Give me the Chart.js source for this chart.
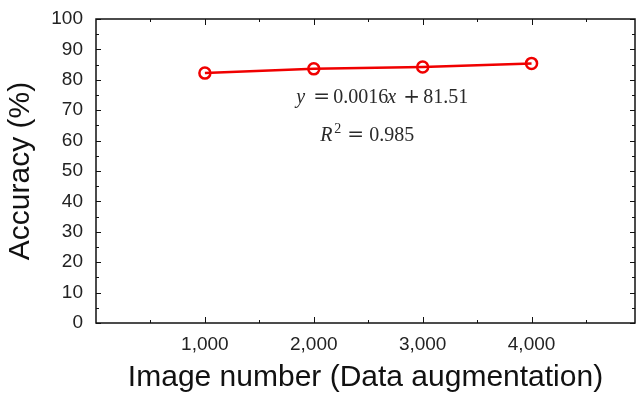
<!DOCTYPE html>
<html>
<head>
<meta charset="utf-8">
<script src="https://cdn.jsdelivr.net/npm/chart.js@4.4.0/dist/chart.umd.min.js"></script>
<style>
  html, body { margin: 0; padding: 0; background: #fff; }
</style>
</head>
<body>
<canvas id="grafico" width="638" height="393"></canvas>
<script>
// datos
const imagenes = [1000, 2000, 3000, 4000];
const precision = [82.2, 83.6, 84.2, 85.4];
const xTicks = [1000, 2000, 3000, 4000];
const xMenores = [500, 1500, 2500, 3500, 4500];
const yTicks = [0, 10, 20, 30, 40, 50, 60, 70, 80, 90, 100];
const yMenores = [5, 15, 25, 35, 45, 55, 65, 75, 85, 95];
// trozos del texto: [texto, tipo, desplazamiento en px]
const ecuacion = [["y", "it", 0], ["=", "op", 17], ["0.0016", "n", 37], ["x", "it", 91], ["+", "op", 107], ["81.51", "n", 127]];
const ajuste = [["R", "it", 0], ["2", "sup", 14], ["=", "op", 27], ["0.985", "n", 49]];

const fuentes = {
  it: "italic 20px 'Liberation Serif', serif",
  n: "20px 'Liberation Serif', serif",
  op: "20px 'DejaVu Serif', serif",
  sup: "14px 'Liberation Serif', serif"
};

function escribir(ctx, trozos, x0, y0) {
  for (const [t, tipo, dx] of trozos) {
    ctx.font = fuentes[tipo];
    ctx.fillText(t, x0 + dx, tipo === "sup" ? y0 - 8 : y0);
  }
}

const marcoPlugin = {
  id: "marco",
  beforeDatasetsDraw(chart) {
    const { ctx, chartArea: a, scales } = chart;
    ctx.save();
    ctx.strokeStyle = "#111";
    ctx.lineWidth = 1.5;
    ctx.strokeRect(a.left, a.top, a.right - a.left, a.bottom - a.top);
    ctx.lineWidth = 1;
    const marcaX = (lista, largo) => {
      for (const v of lista) {
        const px = Math.round(scales.x.getPixelForValue(v)) + 0.5;
        ctx.beginPath();
        ctx.moveTo(px, a.bottom); ctx.lineTo(px, a.bottom - largo);
        ctx.moveTo(px, a.top); ctx.lineTo(px, a.top + largo);
        ctx.stroke();
      }
    };
    const marcaY = (lista, largo) => {
      for (const v of lista) {
        const py = Math.round(scales.y.getPixelForValue(v)) + 0.5;
        ctx.beginPath();
        ctx.moveTo(a.left, py); ctx.lineTo(a.left + largo, py);
        ctx.moveTo(a.right, py); ctx.lineTo(a.right - largo, py);
        ctx.stroke();
      }
    };
    marcaX(xTicks, 6); marcaX(xMenores, 3);
    marcaY(yTicks, 5); marcaY(yMenores, 3);
    ctx.restore();
  },
  afterDraw(chart) {
    const { ctx, scales } = chart;
    ctx.save();
    ctx.fillStyle = "#2a2a2a";
    ctx.textBaseline = "alphabetic";
    ctx.textAlign = "left";
    escribir(ctx, ecuacion, scales.x.getPixelForValue(1840), scales.y.getPixelForValue(72.4));
    escribir(ctx, ajuste, scales.x.getPixelForValue(2060), scales.y.getPixelForValue(59.8));
    ctx.restore();
  }
};

function sinRelleno(s) {
  s.paddingTop = 0; s.paddingBottom = 0; s.paddingLeft = 0; s.paddingRight = 0;
}

const ctx = document.getElementById("grafico").getContext("2d");
new Chart(ctx, {
  type: "line",
  data: {
    datasets: [{
      data: imagenes.map((v, i) => ({ x: v, y: precision[i] })),
      borderColor: "#f00000",
      borderWidth: 2.5,
      pointStyle: "circle",
      pointRadius: 5.5,
      pointBorderWidth: 2.5,
      pointBorderColor: "#f00000",
      pointBackgroundColor: "rgba(0,0,0,0)",
      tension: 0
    }]
  },
  options: {
    responsive: false,
    devicePixelRatio: 1,
    animation: false,
    layout: { autoPadding: false, padding: { top: 19, right: 3, left: 0, bottom: 0 } },
    plugins: { legend: { display: false }, tooltip: { enabled: false } },
    scales: {
      x: {
        type: "linear",
        min: 0,
        max: 4950,
        grid: { display: false, drawTicks: false },
        border: { display: false },
        afterBuildTicks: s => { s.ticks = xTicks.map(v => ({ value: v })); },
        afterFit: s => { s.height = 70; sinRelleno(s); },
        ticks: {
          padding: 10,
          color: "#222",
          font: { family: "'Liberation Sans', Arial, sans-serif", size: 19 },
          callback: v => v.toLocaleString("en-US")
        },
        title: {
          display: true,
          text: "Image number (Data augmentation)",
          color: "#111",
          padding: 0,
          font: { family: "'Liberation Sans', Arial, sans-serif", size: 30, lineHeight: 1.0 }
        }
      },
      y: {
        min: 0,
        max: 100,
        grid: { display: false, drawTicks: false },
        border: { display: false },
        afterBuildTicks: s => { s.ticks = yTicks.map(v => ({ value: v })); },
        afterFit: s => { s.width = 96; sinRelleno(s); },
        ticks: {
          padding: 13,
          color: "#222",
          font: { family: "'Liberation Sans', Arial, sans-serif", size: 19 }
        },
        title: {
          display: true,
          text: "Accuracy (%)",
          color: "#111",
          padding: { top: 3 },
          font: { family: "'Liberation Sans', Arial, sans-serif", size: 30 }
        }
      }
    }
  },
  plugins: [marcoPlugin]
});
</script>
</body>
</html>
